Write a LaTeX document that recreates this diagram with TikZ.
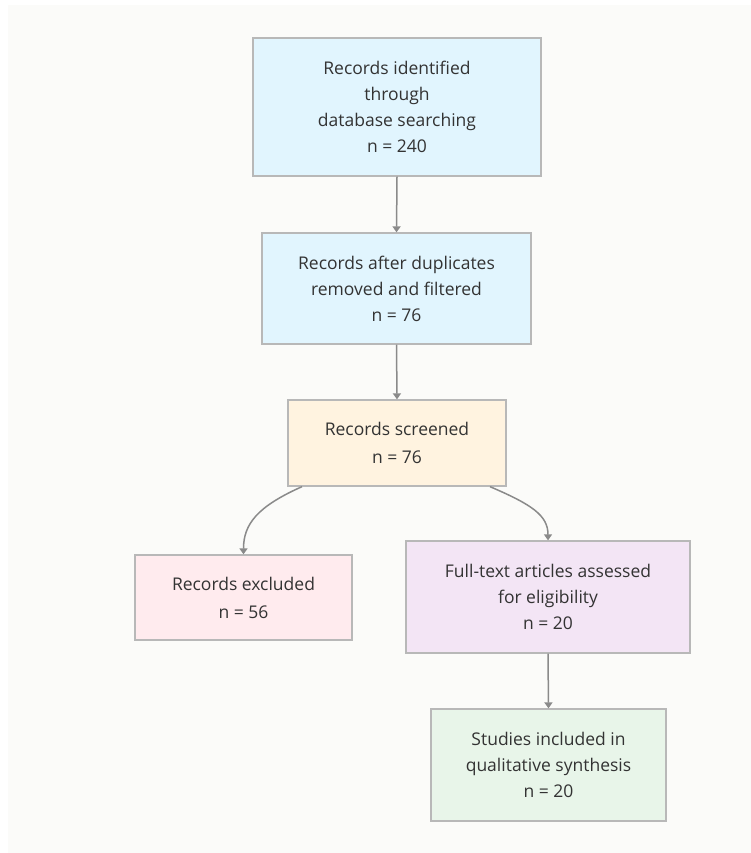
\documentclass[tikz,border=0pt]{standalone}
\usepackage{fontspec}
\setmainfont{Open Sans}
\usetikzlibrary{arrows.meta}
\definecolor{bgc}{HTML}{FBFBF9}
\definecolor{bordc}{HTML}{B8B8B8}
\definecolor{txtc}{HTML}{333333}
\definecolor{arrc}{HTML}{8A8A8A}
\definecolor{cblue}{HTML}{E1F5FE}
\definecolor{corange}{HTML}{FFF3E0}
\definecolor{cpink}{HTML}{FFEBEE}
\definecolor{cpurple}{HTML}{F3E5F5}
\definecolor{cgreen}{HTML}{E8F5E9}
\tikzset{
  box/.style={draw=bordc, line width=1.3pt, text=txtc, align=center, inner sep=0pt,
    font=\fontsize{17.5}{26}\selectfont},
  twoline/.style={font=\fontsize{17.5}{28}\selectfont},
  conn/.style={draw=arrc, line width=1.5pt, -{Triangle[length=6pt,width=8pt]}},
}
\begin{document}
\begin{tikzpicture}[x=1pt,y=-1pt]
\useasboundingbox (0,0) rectangle (751,853);
\fill[white] (0,0) rectangle (751,853);
\fill[bgc] (8,5) rectangle (751,853);
\node[box, fill=cblue, minimum width=288pt, minimum height=138pt] (b1) at (397,107)
  {Records identified\\through\\database searching\\n = 240};
\node[box, fill=cblue, minimum width=269pt, minimum height=111pt] (b2) at (396.5,288.5)
  {Records after duplicates\\removed and filtered\\n = 76};
\node[box, twoline, fill=corange, minimum width=218pt, minimum height=86pt] (b3) at (397,443)
  {Records screened\\n = 76};
\node[box, twoline, fill=cpink, minimum width=217pt, minimum height=85pt] (b4) at (243.5,597.5)
  {Records excluded\\n = 56};
\node[box, fill=cpurple, minimum width=284pt, minimum height=112pt] (b5) at (548,597)
  {Full-text articles assessed\\for eligibility\\n = 20};
\node[box, fill=cgreen, minimum width=235pt, minimum height=112pt] (b6) at (548.5,765)
  {Studies included in\\qualitative synthesis\\n = 20};
\draw[conn] (b1.south) -- (b2.north);
\draw[conn] (b2.south) -- (b3.north);
\draw[conn] ([xshift=-95pt]b3.south) .. controls +(-45,20) and +(0,-30) .. (b4.north);
\draw[conn] ([xshift=93pt]b3.south) .. controls +(42,18) and +(0,-25) .. (b5.north);
\draw[conn] (b5.south) -- (b6.north);
\end{tikzpicture}
\end{document}
